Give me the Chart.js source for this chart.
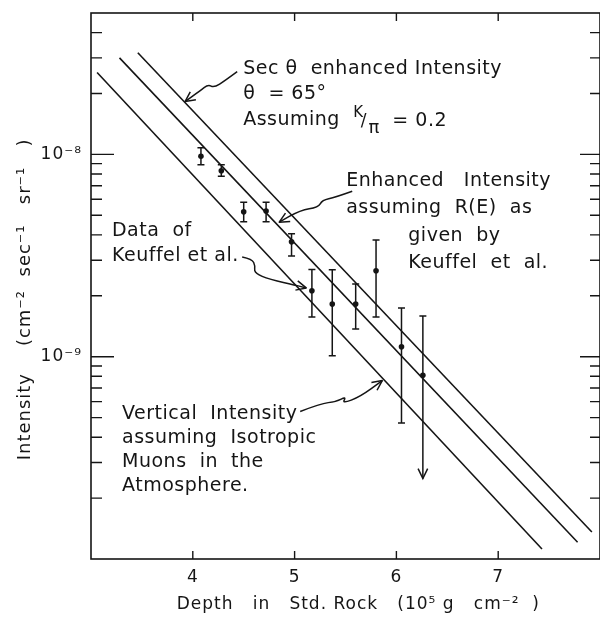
<!DOCTYPE html>
<html>
<head>
<meta charset="utf-8">
<title>Muon intensity vs depth</title>
<script src="https://cdn.jsdelivr.net/npm/chart.js@4.4.0/dist/chart.umd.min.js"></script>
<style>
    html, body { margin: 0; padding: 0; background: #fff; overflow: hidden; }
    #wrap { width: 604px; height: 624px; }
</style>
</head>
<body>
<div id="wrap"><canvas id="muonChart" width="604" height="624"></canvas></div>
<script>
// Data of Keuffel et al.
const depth     = [4.08, 4.28, 4.50, 4.72, 4.97, 5.17, 5.37, 5.60, 5.80, 6.05, 6.26];
const intensity = [9.8e-9, 8.3e-9, 5.2e-9, 5.25e-9, 3.7e-9, 2.12e-9, 1.82e-9, 1.82e-9, 2.66e-9, 1.12e-9, 8.1e-10];
const errHigh   = [1.08e-8, 8.9e-9, 5.8e-9, 5.8e-9, 4.05e-9, 2.7e-9, 2.69e-9, 2.29e-9, 3.77e-9, 1.74e-9, 1.59e-9];
const errLow    = [8.9e-9, 7.8e-9, 4.65e-9, 4.65e-9, 3.15e-9, 1.57e-9, 1.01e-9, 1.37e-9, 1.57e-9, 4.7e-10, 2.5e-10];
const upperLimit = [false, false, false, false, false, false, false, false, false, false, true];

// Calculated curves (straight on the log plot), end points only
const verticalLine = [{ x: 3.06, y: 2.54e-8 }, { x: 7.43, y: 1.12e-10 }];
const enhancedLine = [{ x: 3.28, y: 3.0e-8 }, { x: 7.78, y: 1.21e-10 }];
const secLine      = [{ x: 3.46, y: 3.18e-8 }, { x: 7.92, y: 1.36e-10 }];

// Axis ticks
const xTicks = [4, 5, 6, 7];
const yDecadeLabels = { '-8': '10⁻⁸', '-9': '10⁻⁹' };

// Text notes, placed in data units (x, log10 y)
const notes = [
    { x: 4.495, ly: -7.576, text: 'Sec θ  enhanced Intensity' },
    { x: 4.495, ly: -7.700, text: 'θ  = 65°' },
    { x: 4.495, ly: -7.828, text: 'Assuming' },
    { x: 5.576, ly: -7.798, text: 'K', size: 15 },
    { x: 5.650, ly: -7.840, text: '/', size: 17 },
    { x: 5.725, ly: -7.872, text: 'π', size: 18 },
    { x: 5.960, ly: -7.833, text: '= 0.2' },
    { x: 5.507, ly: -8.133, text: 'Enhanced   Intensity' },
    { x: 5.507, ly: -8.266, text: 'assuming  R(E)  as' },
    { x: 6.117, ly: -8.404, text: 'given  by' },
    { x: 6.117, ly: -8.537, text: 'Keuffel  et  al.' },
    { x: 3.206, ly: -8.379, text: 'Data  of' },
    { x: 3.206, ly: -8.502, text: 'Keuffel et al.' },
    { x: 3.305, ly: -9.286, text: 'Vertical  Intensity' },
    { x: 3.305, ly: -9.404, text: 'assuming  Isotropic' },
    { x: 3.305, ly: -9.522, text: 'Muons  in  the' },
    { x: 3.305, ly: -9.640, text: 'Atmosphere.' }
];

// Hand-drawn pointer arrows (x, log10 y), last point is the tip
const arrows = [
    [[4.436, -7.591], [4.318, -7.635], [4.209, -7.670], [4.150, -7.655], [4.072, -7.685], [3.924, -7.739]],
    [[5.566, -8.182], [5.399, -8.212], [5.271, -8.227], [5.232, -8.261], [5.055, -8.276], [4.849, -8.335]],
    [[4.485, -8.507], [4.583, -8.517], [4.613, -8.552], [4.603, -8.581], [4.701, -8.611], [4.957, -8.640], [5.114, -8.660]],
    [[5.055, -9.271], [5.252, -9.232], [5.409, -9.222], [5.507, -9.197], [5.468, -9.232], [5.645, -9.197], [5.861, -9.118]]
];

const ink = '#151515';
const fontFamily = '"DejaVu Sans", "Liberation Sans", sans-serif';

function arrowHead(ctx, fromX, fromY, tipX, tipY, len) {
    const ang = Math.atan2(tipY - fromY, tipX - fromX);
    ctx.beginPath();
    ctx.moveTo(tipX - len * Math.cos(ang - 0.45), tipY - len * Math.sin(ang - 0.45));
    ctx.lineTo(tipX, tipY);
    ctx.lineTo(tipX - len * Math.cos(ang + 0.45), tipY - len * Math.sin(ang + 0.45));
    ctx.stroke();
}

// no automatic label padding, so the plot box sits where the figure has it
function fixPadding(s) {
    s.paddingTop = 0;
    s.paddingBottom = 0;
    s.paddingLeft = 0;
    s.paddingRight = 0;
}

const paperPlugin = {
    id: 'paper',
    beforeDraw(chart) {
        chart.ctx.letterSpacing = '1px';
    },
    afterDatasetsDraw(chart) {
        const { ctx, chartArea: a } = chart;
        const xs = chart.scales.x;
        const ys = chart.scales.y;
        const px = v => xs.getPixelForValue(v);
        const py = v => ys.getPixelForValue(v);

        ctx.save();
        ctx.strokeStyle = ink;
        ctx.lineCap = 'butt';

        // frame (right side falls just outside the picture, as in the scan)
        ctx.lineWidth = 1.6;
        ctx.strokeRect(a.left, a.top, a.right - a.left, a.bottom - a.top);

        // inward ticks, x (top and bottom)
        ctx.lineWidth = 1.4;
        ctx.beginPath();
        xTicks.forEach(v => {
            const p = px(v);
            ctx.moveTo(p, a.bottom); ctx.lineTo(p, a.bottom - 8);
            ctx.moveTo(p, a.top); ctx.lineTo(p, a.top + 8);
        });
        // inward ticks, y (left and right)
        for (let e = -10; e <= -8; e++) {
            for (let m = 1; m <= 9; m++) {
                const v = m * Math.pow(10, e);
                if (v <= 1.01e-10 || v > 4.9e-8) continue;
                const p = py(v);
                const major = m === 1;
                ctx.moveTo(a.left, p); ctx.lineTo(a.left + (major ? 23 : 11), p);
                ctx.moveTo(a.right, p); ctx.lineTo(a.right - (major ? 20 : 10), p);
            }
        }
        ctx.stroke();

        // error bars
        ctx.lineWidth = 1.5;
        depth.forEach((d, i) => {
            const x = px(d);
            const top = py(errHigh[i]);
            const bot = py(errLow[i]);
            ctx.beginPath();
            ctx.moveTo(x, top); ctx.lineTo(x, bot);
            ctx.moveTo(x - 3.5, top); ctx.lineTo(x + 3.5, top);
            if (!upperLimit[i]) {
                ctx.moveTo(x - 3.5, bot); ctx.lineTo(x + 3.5, bot);
            }
            ctx.stroke();
            if (upperLimit[i]) arrowHead(ctx, x, bot - 10, x, bot, 11);
        });

        // notes
        ctx.fillStyle = ink;
        ctx.textAlign = 'left';
        ctx.textBaseline = 'middle';
        ctx.letterSpacing = '0.5px';
        notes.forEach(n => {
            ctx.font = (n.size || 19) + 'px ' + fontFamily;
            ctx.fillText(n.text, px(n.x), py(Math.pow(10, n.ly)));
        });

        // curly pointer arrows
        ctx.lineWidth = 1.5;
        ctx.lineJoin = 'round';
        arrows.forEach(path => {
            const pts = path.map(p => [px(p[0]), py(Math.pow(10, p[1]))]);
            ctx.beginPath();
            ctx.moveTo(pts[0][0], pts[0][1]);
            for (let k = 1; k < pts.length - 1; k++) {
                const mx = (pts[k][0] + pts[k + 1][0]) / 2;
                const my = (pts[k][1] + pts[k + 1][1]) / 2;
                ctx.quadraticCurveTo(pts[k][0], pts[k][1], mx, my);
            }
            const tip = pts[pts.length - 1];
            const prev = pts[pts.length - 2];
            ctx.lineTo(tip[0], tip[1]);
            ctx.stroke();
            arrowHead(ctx, prev[0], prev[1], tip[0], tip[1], 11);
        });

        ctx.restore();
    }
};

const lineStyle = {
    type: 'line',
    showLine: true,
    borderColor: ink,
    borderWidth: 1.6,
    pointRadius: 0,
    fill: false
};

const config = {
    type: 'scatter',
    data: {
        datasets: [
            Object.assign({ label: 'Vertical intensity', data: verticalLine }, lineStyle),
            Object.assign({ label: 'Enhanced intensity', data: enhancedLine }, lineStyle),
            Object.assign({ label: 'Sec theta enhanced', data: secLine }, lineStyle),
            {
                label: 'Keuffel et al.',
                data: depth.map((d, i) => ({ x: d, y: intensity[i] })),
                pointRadius: 2.8,
                pointBackgroundColor: ink,
                pointBorderColor: ink,
                pointBorderWidth: 0
            }
        ]
    },
    options: {
        responsive: false,
        animation: false,
        layout: { padding: { top: 13, right: 3, left: 0, bottom: 0 } },
        plugins: {
            legend: { display: false },
            tooltip: { enabled: false }
        },
        scales: {
            x: {
                type: 'linear',
                min: 3,
                max: 8,
                afterFit: s => { s.height = 65; fixPadding(s); },
                grid: { display: false, drawTicks: false },
                border: { display: false },
                ticks: {
                    stepSize: 1,
                    autoSkip: false,
                    maxRotation: 0,
                    padding: 8,
                    color: ink,
                    font: { family: fontFamily, size: 17 },
                    callback: v => xTicks.includes(v) ? String(v) : ''
                },
                title: {
                    display: true,
                    text: '    Depth   in   Std. Rock   (10⁵ g   cm⁻²  )',
                    color: ink,
                    font: { family: fontFamily, size: 17 },
                    padding: { top: 0, bottom: 9 }
                }
            },
            y: {
                type: 'logarithmic',
                min: 1e-10,
                max: 5e-8,
                afterFit: s => { s.width = 91; fixPadding(s); },
                grid: { display: false, drawTicks: false },
                border: { display: false },
                ticks: {
                    autoSkip: false,
                    padding: 9,
                    color: ink,
                    font: { family: fontFamily, size: 17 },
                    callback: v => {
                        const lg = Math.log10(v);
                        if (Math.abs(lg - Math.round(lg)) > 1e-6) return '';
                        return yDecadeLabels[String(Math.round(lg))] || '';
                    }
                },
                title: {
                    display: true,
                    text: 'Intensity    (cm⁻²  sec⁻¹   sr⁻¹   )    ',
                    color: ink,
                    font: { family: fontFamily, size: 18 },
                    padding: { top: 15, bottom: 0 }
                }
            }
        }
    },
    plugins: [paperPlugin]
};

const chart = new Chart(document.getElementById('muonChart').getContext('2d'), config);
console.log('chart drawn', chart.chartArea);
</script>
</body>
</html>
